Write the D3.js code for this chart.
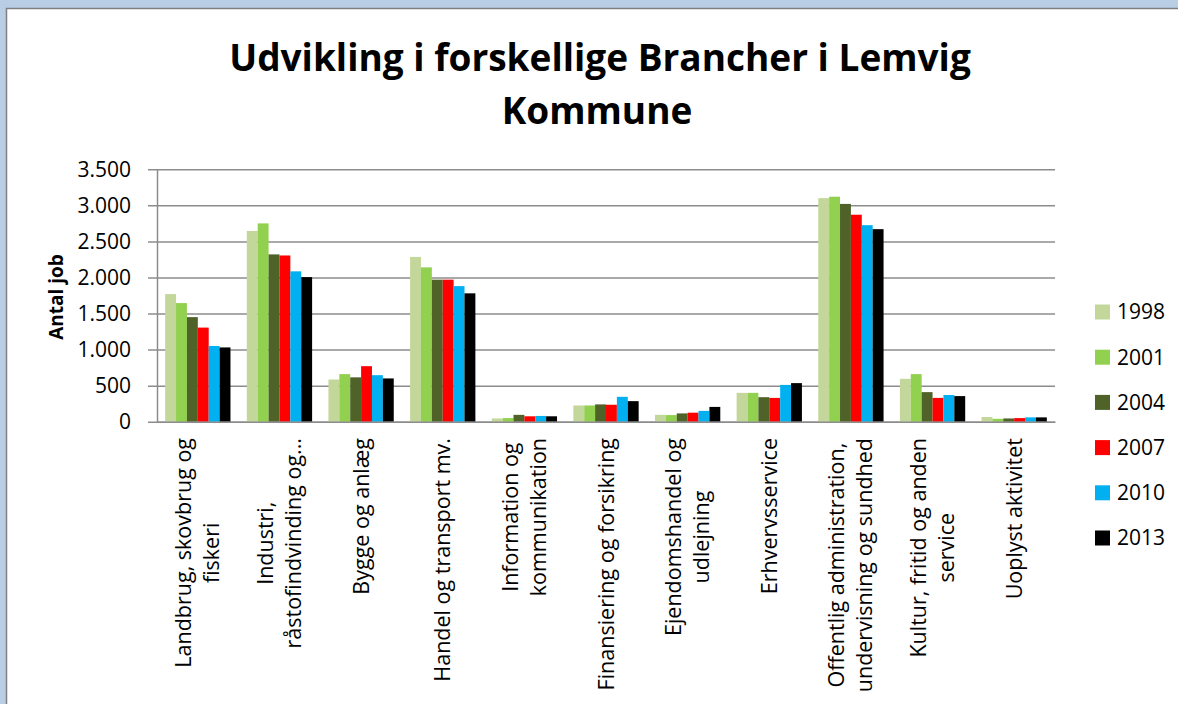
<!DOCTYPE html>
<html>
<head>
<meta charset="utf-8">
<script src="https://cdn.jsdelivr.net/npm/d3@7"></script>
<style>
  html, body { margin: 0; padding: 0; background: #b9cde5; }
  svg { display: block; }
  text { font-family: "Open Sans", sans-serif; fill: #000; }
</style>
</head>
<body>
<svg id="chart" width="1178" height="704"></svg>
<script>
// categories on the x axis (\n = line break in the label)
var categories = [
  "Landbrug, skovbrug og\nfiskeri",
  "Industri,\nråstofindvinding og...",
  "Bygge og anlæg",
  "Handel og transport mv.",
  "Information og\nkommunikation",
  "Finansiering og forsikring",
  "Ejendomshandel og\nudlejning",
  "Erhvervsservice",
  "Offentlig administration,\nundervisning og sundhed",
  "Kultur, fritid og anden\nservice",
  "Uoplyst aktivitet"
];

var years = ["1998", "2001", "2004", "2007", "2010", "2013"];
var yearColors = ["#c4d79b", "#92d050", "#4f6228", "#ff0000", "#00b0f0", "#000000"];

// antal job per year, one value per category
var v1998 = [1770, 2645,  585, 2285, 45, 225,  95, 400, 3100, 595, 65];
var v2001 = [1645, 2750,  660, 2140, 50, 225,  92, 400, 3120, 660, 40];
var v2004 = [1450, 2320,  615, 1970, 95, 240, 115, 340, 3020, 410, 45];
var v2007 = [1305, 2305,  770, 1970, 75, 235, 125, 330, 2870, 330, 50];
var v2010 = [1050, 2085,  645, 1880, 80, 345, 150, 510, 2725, 370, 60];
var v2013 = [1030, 2005,  600, 1780, 75, 285, 205, 535, 2670, 355, 60];

var yTicks = [0, 500, 1000, 1500, 2000, 2500, 3000, 3500];

var series = [v1998, v2001, v2004, v2007, v2010, v2013];

var svg = d3.select("#chart");

// chart sheet: white area with grey edge on the blue window background
svg.append("rect")
    .attr("x", 6.5).attr("y", 8.5)
    .attr("width", 1180).attr("height", 710)
    .attr("fill", "#fff")
    .attr("stroke", "#7f7f7f")
    .attr("stroke-width", 1.5);

var plotLeft = 157, plotRight = 1055, plotTop = 169.3, plotBottom = 421.7;

var x = d3.scaleBand()
    .domain(categories)
    .range([plotLeft, plotRight])
    .paddingInner(0.2)
    .paddingOuter(0.1);

var x1 = d3.scaleBand()
    .domain(years)
    .range([0, x.bandwidth()]);

var y = d3.scaleLinear()
    .domain([0, 3500])
    .range([plotBottom, plotTop]);

var color = d3.scaleOrdinal().domain(years).range(yearColors);

var da = d3.formatLocale({decimal: ",", thousands: ".", grouping: [3], currency: ["", ""]});
var fmt = da.format(",d");

// y axis with gridlines
var yAxis = d3.axisLeft(y)
    .tickValues(yTicks)
    .tickSize(-(plotRight - plotLeft))
    .tickSizeOuter(0)
    .tickFormat(fmt)
    .tickPadding(26);

var gy = svg.append("g")
    .attr("transform", "translate(" + plotLeft + ",0)")
    .call(yAxis);
gy.select(".domain").attr("stroke", "#8c8c8c").attr("stroke-width", 1.5);
gy.selectAll(".tick line")
    .attr("x1", -9)
    .attr("stroke", "#8c8c8c")
    .attr("stroke-width", 1.5);
gy.selectAll(".tick text")
    .style("font-family", "'Open Sans', sans-serif")
    .style("font-size", "21px")
    .attr("fill", "#000");

// bars
var groups = svg.append("g").selectAll("g")
    .data(categories)
    .join("g")
    .attr("transform", function (d) { return "translate(" + x(d) + ",0)"; });

groups.selectAll("rect")
    .data(function (d, i) {
      return years.map(function (yr, j) { return {year: yr, value: series[j][i]}; });
    })
    .join("rect")
    .attr("x", function (d) { return x1(d.year); })
    .attr("y", function (d) { return y(d.value); })
    .attr("width", x1.bandwidth())
    .attr("height", function (d) { return y(0) - y(d.value); })
    .attr("fill", function (d) { return color(d.year); });

// x axis line
var xAxis = d3.axisBottom(x).tickSize(0).tickFormat("");
var gx = svg.append("g")
    .attr("transform", "translate(0," + plotBottom + ")")
    .call(xAxis);
gx.select(".domain").attr("stroke", "#8c8c8c").attr("stroke-width", 1.5);

// rotated category labels, lines centred on the longest one
var labelTop = 438, lineGap = 28;
categories.forEach(function (cat) {
  var lines = cat.split("\n");
  var cx = x(cat) + x.bandwidth() / 2;
  var g = svg.append("g");
  var texts = lines.map(function (ln, i) {
    return g.append("text")
        .attr("text-anchor", "middle")
        .attr("dy", "0.35em")
        .style("font-size", "21.5px")
        .text(ln)
        .datum(cx + (i - (lines.length - 1) / 2) * lineGap);
  });
  var maxLen = d3.max(texts, function (t) { return t.node().getComputedTextLength(); });
  texts.forEach(function (t) {
    t.attr("transform", "translate(" + t.datum() + "," + (labelTop + maxLen / 2) + ") rotate(-90)");
  });
});

// y axis title
svg.append("text")
    .attr("transform", "translate(56,297) rotate(-90)")
    .attr("text-anchor", "middle")
    .attr("dy", "0.35em")
    .style("font-size", "19px")
    .style("font-weight", "bold")
    .text("Antal job");

// chart title
var title = svg.append("text")
    .attr("text-anchor", "middle")
    .style("font-size", "37px")
    .style("font-weight", "bold");
title.append("tspan").attr("x", 600).attr("y", 71).text("Udvikling i forskellige Brancher i Lemvig");
title.append("tspan").attr("x", 597).attr("y", 124).text("Kommune");

// legend
var legend = svg.append("g").selectAll("g")
    .data(years)
    .join("g")
    .attr("transform", function (d, i) { return "translate(1095," + (312 + i * 45.2) + ")"; });
legend.append("rect")
    .attr("x", 0).attr("y", -7.5)
    .attr("width", 15).attr("height", 15)
    .attr("fill", function (d) { return color(d); });
legend.append("text")
    .attr("x", 22)
    .attr("dy", "0.35em")
    .style("font-size", "21px")
    .text(function (d) { return d; });
</script>
</body>
</html>
